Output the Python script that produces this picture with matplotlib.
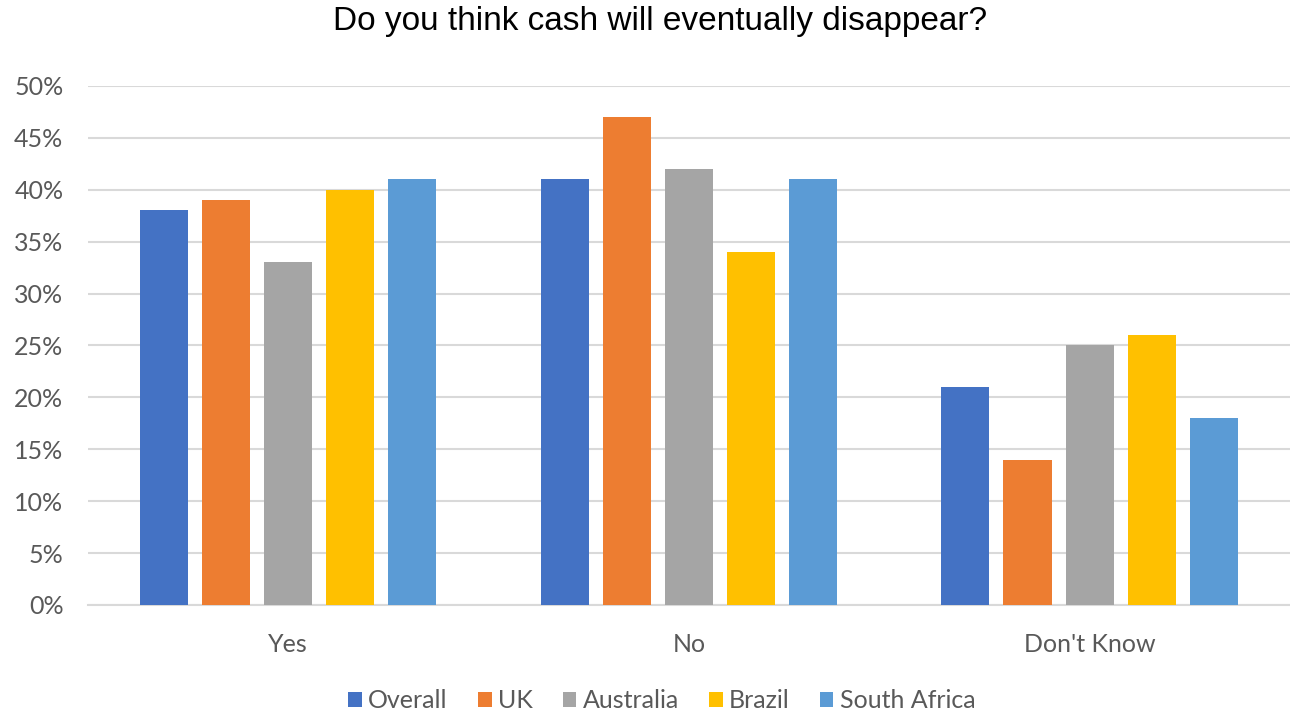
import matplotlib.pyplot as plt
import numpy as np

categories = ["Yes", "No", "Don't Know"]
series_names = ["Overall", "UK", "Australia", "Brazil", "South Africa"]
overall = [38, 41, 21]
uk = [39, 47, 14]
australia = [33, 42, 25]
brazil = [40, 34, 26]
south_africa = [41, 41, 18]
colors = ["#4472c4", "#ed7d31", "#a5a5a5", "#ffc000", "#5b9bd5"]
yticks = list(range(0, 51, 5))

values = [overall, uk, australia, brazil, south_africa]

fig = plt.figure(figsize=(12.9, 7.13), dpi=100)
ax = fig.add_axes([0.068, 0.1515, 0.932, 0.728])

x = np.arange(len(categories))
bar_w = 0.12
pitch = 0.155
for i, (name, vals, col) in enumerate(zip(series_names, values, colors)):
    ax.bar(x + (i - 2) * pitch, vals, width=bar_w, color=col, label=name, zorder=3)

ax.set_xlim(-0.5, 2.5)
ax.set_ylim(0, 50)
ax.set_yticks(yticks)
ax.set_yticklabels([f"{v}%" for v in yticks], fontsize=18, color="#595959", family="Lato")
ax.set_xticks(x)
ax.set_xticklabels(categories, fontsize=18, color="#595959", family="Lato")
ax.yaxis.grid(True, color="#d9d9d9", linewidth=1.5, zorder=0)
ax.tick_params(axis="both", length=0)
ax.tick_params(axis="y", pad=17.5)
ax.tick_params(axis="x", pad=20)
for s in ["top", "right", "left"]:
    ax.spines[s].set_visible(False)
ax.spines["bottom"].set_color("#d9d9d9")
ax.spines["bottom"].set_linewidth(1.5)

fig.suptitle("Do you think cash will eventually disappear?", x=0.512, y=0.992, fontsize=24,
             family="Liberation Sans", color="#000000")

leg = fig.legend(loc="lower center", bbox_to_anchor=(0.513, -0.03), ncol=5, frameon=False,
                 prop={"family": "Lato", "size": 18}, handlelength=0.55, handleheight=0.55,
                 handletextpad=0.25, columnspacing=1.2)
for t in leg.get_texts():
    t.set_color("#595959")

fig.savefig("out.png", dpi=100)
